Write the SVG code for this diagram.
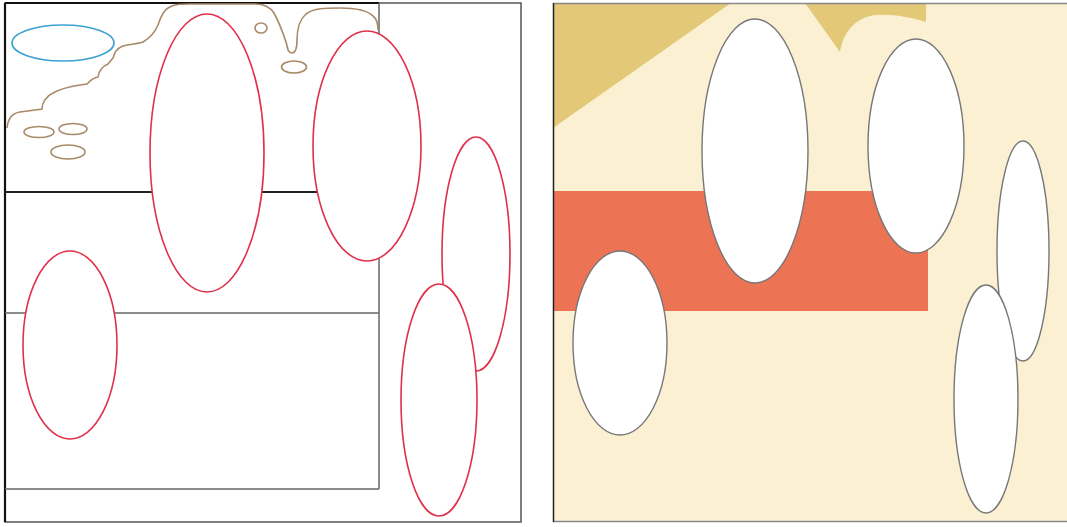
<svg xmlns="http://www.w3.org/2000/svg" width="1067" height="527" viewBox="0 0 1067 527">
<style>
.red{fill:#fff;stroke:#e0304a;stroke-width:1.6}
.gry{fill:#fff;stroke:#777;stroke-width:1.4}
.brn{fill:none;stroke:#a88a68;stroke-width:1.6}
.box{fill:none;stroke:#666;stroke-width:1.5}
</style>
<rect width="1067" height="527" fill="#fff"/>
<g id="left-panel">
<rect x="5" y="3" width="516" height="519" fill="#fff" stroke="#555" stroke-width="1.5"/>
<line x1="5" y1="3" x2="379" y2="3" stroke="#111" stroke-width="2.2"/>
<line x1="5" y1="3" x2="5" y2="522" stroke="#111" stroke-width="2.2"/>
<line x1="379" y1="3" x2="379" y2="489" class="box"/>
<line x1="5" y1="192" x2="379" y2="192" stroke="#222" stroke-width="1.8"/>
<line x1="5" y1="313" x2="379" y2="313" class="box"/>
<line x1="5" y1="489" x2="379" y2="489" class="box"/>
</g>
<g id="cloud">
<path class="brn" d="M7,128 C8,118 13,113 20,112 L42,109 C42,103 46,96 53,93 C60,89 67,87 80,85 L87,84 C90,81 92,78 98,77 C99,70 103,66 108,64 C111,60 114,58 114,55 C116,49 121,46 127,45 C134,44 140,43 143,42 C150,38 155,32 158,25 C161,16 164,10 168,8 C174,4 180,4 190,4 L255,4 C264,4 270,7 274,13 C279,22 283,33 286,42 C288,48 287,52 292,53 C296,53 297,47 297,40 C297,30 299,20 306,14 C314,8 325,8 340,8 C355,8 368,11 373,16 C377,19 378,24 378,30"/>
<ellipse class="brn" cx="261" cy="28" rx="6" ry="5"/>
<ellipse class="brn" cx="294" cy="67" rx="12.5" ry="6"/>
<ellipse class="brn" cx="39" cy="132" rx="15" ry="5.5"/>
<ellipse class="brn" cx="73" cy="129" rx="14" ry="5.5"/>
<ellipse class="brn" cx="68" cy="152" rx="17" ry="7"/>
</g>
<g id="blue-ellipse"><ellipse cx="63" cy="43" rx="51" ry="18" fill="none" stroke="#3aa2d4" stroke-width="1.6"/></g>
<g id="red-1"><ellipse class="red" cx="207" cy="153" rx="57" ry="139"/></g>
<g id="red-2"><ellipse class="red" cx="367" cy="146" rx="54" ry="115"/></g>
<g id="red-3"><ellipse class="red" cx="476" cy="254" rx="34" ry="117"/></g>
<g id="red-4"><ellipse class="red" cx="439" cy="400" rx="38" ry="116"/></g>
<g id="red-5"><ellipse class="red" cx="70" cy="345" rx="47" ry="94"/></g>
<g id="right-panel">
<rect x="553" y="3" width="514" height="519" fill="#fcf0d3"/>
<polygon points="553,3 731,3 553,128" fill="#e3c977"/>
<path d="M805,3 L840,52 C843,33 855,17 876,15 C895,14 912,18 926,22 L926,3 Z" fill="#e3c977"/>
<rect x="553" y="191" width="375" height="120" fill="#ec7455"/>
<line x1="553" y1="3.5" x2="1067" y2="3.5" stroke="#888" stroke-width="1.5"/>
<line x1="553" y1="521.5" x2="1067" y2="521.5" stroke="#888" stroke-width="1.5"/>
<line x1="553.5" y1="3" x2="553.5" y2="522" stroke="#222" stroke-width="1.5"/>
</g>
<g id="white-1"><ellipse class="gry" cx="755" cy="151" rx="53" ry="132"/></g>
<g id="white-2"><ellipse class="gry" cx="916" cy="146" rx="48" ry="107"/></g>
<g id="white-3"><ellipse class="gry" cx="1023" cy="251" rx="26" ry="110"/></g>
<g id="white-4"><ellipse class="gry" cx="986" cy="399" rx="32" ry="114"/></g>
<g id="white-5"><ellipse class="gry" cx="620" cy="343" rx="47" ry="92"/></g>
<g id="connectors"></g>
</svg>
